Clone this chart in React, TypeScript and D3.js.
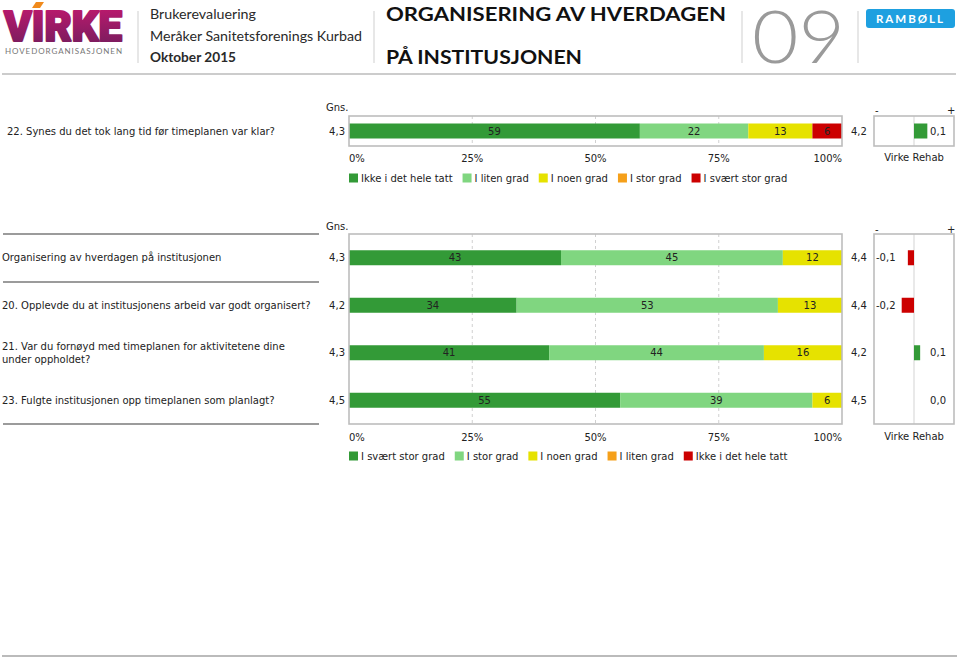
import React from "react";
import * as d3 from "d3";

const FONT = "'DejaVu Sans', Verdana, sans-serif";
const HFONT = "Lato, 'Open Sans', sans-serif";

// ---------- data ----------
const topCategories = ["Ikke i det hele tatt", "I liten grad", "I noen grad", "I stor grad", "I svært stor grad"];
const topQuestion = "22. Synes du det tok lang tid før timeplanen var klar?";
const topShares = [59, 22, 13, 0, 6];
const topMean = 4.3;
const topVirke = 4.2;
const topDiff = 0.1;

const lowerCategories = ["I svært stor grad", "I stor grad", "I noen grad", "I liten grad", "Ikke i det hele tatt"];
const lowerQuestions = [
  ["Organisering av hverdagen på institusjonen"],
  ["20. Opplevde du at institusjonens arbeid var godt organisert?"],
  ["21. Var du fornøyd med timeplanen for aktivitetene dine", "under oppholdet?"],
  ["23. Fulgte institusjonen opp timeplanen som planlagt?"],
];
const lowerSvaertStor = [43, 34, 41, 55];
const lowerStor = [45, 53, 44, 39];
const lowerNoen = [12, 13, 16, 6];
const lowerLiten = [0, 0, 0, 0];
const lowerIkke = [0, 0, 0, 0];
const lowerMeans = [4.3, 4.2, 4.3, 4.5];
const lowerVirke = [4.4, 4.4, 4.2, 4.5];
const lowerDiffs = [-0.1, -0.2, 0.1, 0.0];

const tickValues = [0, 0.25, 0.5, 0.75, 1];

// ---------- styles ----------
const PALETTE = ["#339a37", "#80d680", "#e6e200", "#f5a01a", "#cc0000"];
const FRAME = "#bdbdbd";

const fmt1 = (v: number) => d3.format(".1f")(v).replace(".", ",").replace("−", "-");

let _ctx: CanvasRenderingContext2D | null = null;
function measure(text: string, font = `10px ${FONT}`) {
  if (!_ctx) _ctx = document.createElement("canvas").getContext("2d");
  _ctx!.font = font;
  return _ctx!.measureText(text).width;
}

type Row = { id: string; label: string[]; values: number[]; mean: number; virke: number; diff: number };

function StackPanel(props: {
  rows: Row[];
  categories: string[];
  top: number;
  bottom: number;
  diffDomain: [number, number];
  gnsY: number;
  tickY: number;
  legendY: number;
  labelX: number;
}) {
  const { rows, categories, top, bottom, diffDomain, gnsY, tickY, legendY, labelX } = props;
  const x = d3.scaleLinear().domain([0, 1]).range([349, 842]);
  const y = d3.scaleBand().domain(rows.map((r) => r.id)).range([top, bottom]);
  const dx = d3.scaleLinear().domain(diffDomain).range([874, 954]);
  const barH = 15;
  const table = rows.map((r) => {
    const o: any = { id: r.id };
    categories.forEach((c, i) => (o[c] = r.values[i]));
    return o;
  });
  const series = d3.stack<any>().keys(categories).offset(d3.stackOffsetExpand)(table);
  const tickFmt = d3.format(".0%");

  // legend layout
  let lx = 349;
  const legend = categories.map((c, i) => {
    const item = { c, x: lx, color: PALETTE[i] };
    lx += 12 + measure(c) + 10;
    return item;
  });

  return (
    <g fontFamily={FONT} fontSize={10} fill="#222">
      <text x={326} y={gnsY}>Gns.</text>
      <text x={875} y={gnsY + 3}>-</text>
      <text x={947} y={gnsY + 3}>+</text>
      {/* gridlines */}
      {[0.25, 0.5, 0.75].map((t) => (
        <line key={t} x1={x(t)} x2={x(t)} y1={top} y2={bottom} stroke="#d0d0d0" strokeDasharray="3,3" />
      ))}
      <line x1={dx(0)} x2={dx(0)} y1={top} y2={bottom} stroke="#e2e2e2" strokeWidth={1.5} />
      {/* bars */}
      {series.map((s, si) =>
        s.map((d, di) => {
          const r = rows[di];
          const cy = (y(r.id) as number) + y.bandwidth() / 2;
          const w = x(d[1]) - x(d[0]);
          if (w <= 0) return null;
          return (
            <g key={`${si}-${di}`}>
              <rect x={x(d[0])} y={cy - barH / 2} width={w} height={barH} fill={PALETTE[si]} />
              <text x={(x(d[0]) + x(d[1])) / 2} y={cy + 3.5} textAnchor="middle" fill="#222">
                {r.values[si]}
              </text>
            </g>
          );
        })
      )}
      {rows.map((r) => {
        const cy = (y(r.id) as number) + y.bandwidth() / 2;
        const n = r.label.length;
        return (
          <g key={r.id}>
            {r.label.map((l, li) => (
              <text key={li} x={labelX} y={cy + 3.5 + (li - (n - 1) / 2) * 13}>
                {l}
              </text>
            ))}
            <text x={345} y={cy + 3.5} textAnchor="end">{fmt1(r.mean)}</text>
            <text x={851} y={cy + 3.5}>{fmt1(r.virke)}</text>
            {r.diff !== 0 && (
              <rect
                x={Math.min(dx(0), dx(r.diff))}
                y={cy - barH / 2}
                width={Math.abs(dx(r.diff) - dx(0))}
                height={barH}
                fill={r.diff < 0 ? PALETTE[4] : PALETTE[0]}
              />
            )}
            {r.diff < 0 ? (
              <text x={876} y={cy + 3.5}>{fmt1(r.diff)}</text>
            ) : (
              <text x={946} y={cy + 3.5} textAnchor="end">{fmt1(r.diff)}</text>
            )}
          </g>
        );
      })}
      {/* frames */}
      <rect x={349} y={top} width={493} height={bottom - top} fill="none" stroke={FRAME} strokeWidth={1.6} />
      <rect x={874} y={top} width={80} height={bottom - top} fill="none" stroke={FRAME} strokeWidth={1.6} />
      {/* ticks */}
      {tickValues.map((t, i) => (
        <text
          key={t}
          x={x(t)}
          y={tickY}
          textAnchor={i === 0 ? "start" : i === tickValues.length - 1 ? "end" : "middle"}
        >
          {tickFmt(t)}
        </text>
      ))}
      <text x={dx(0)} y={tickY - 1} textAnchor="middle">Virke Rehab</text>
      {/* legend */}
      {legend.map((l) => (
        <g key={l.c}>
          <rect x={l.x} y={legendY - 8} width={9} height={9} fill={l.color} />
          <text x={l.x + 12} y={legendY}>{l.c}</text>
        </g>
      ))}
    </g>
  );
}

function Header() {
  return (
    <g>
      <defs>
        <linearGradient id="virkeGrad" x1="0" y1="0" x2="0" y2="1">
          <stop offset="0" stopColor="#c4196f" />
          <stop offset="1" stopColor="#6f1d5c" />
        </linearGradient>
      </defs>
      <text x={4} y={41} fontFamily="Roboto, sans-serif" fontWeight={900} fontSize={42} fill="url(#virkeGrad)" stroke="url(#virkeGrad)" strokeWidth={2.2} strokeLinejoin="round" textLength={118} lengthAdjust="spacingAndGlyphs">
        VIRKE
      </text>
      <polygon points="36,2 44,2 40,8 32,8" fill="#f08a1c" />
      <text x={5} y={54} fontFamily={HFONT} fontSize={8} fill="#777" textLength={117} lengthAdjust="spacing">
        HOVEDORGANISASJONEN
      </text>
      {[138, 374, 742, 858].map((sx) => (
        <line key={sx} x1={sx} x2={sx} y1={11} y2={63} stroke="#cfcfcf" strokeWidth={1} />
      ))}
      <g fontFamily={HFONT} fill="#2a2a2a">
        <text x={150} y={19} fontSize={14} textLength={106} lengthAdjust="spacingAndGlyphs">Brukerevaluering</text>
        <text x={150} y={41} fontSize={14} textLength={212} lengthAdjust="spacingAndGlyphs">Meråker Sanitetsforenings Kurbad</text>
        <text x={150} y={62} fontSize={14} fontWeight={700} textLength={86} lengthAdjust="spacingAndGlyphs">Oktober 2015</text>
        <text x={386} y={21} fontSize={19} fontWeight={700} fill="#111" textLength={340} lengthAdjust="spacingAndGlyphs">ORGANISERING AV HVERDAGEN</text>
        <text x={386} y={64} fontSize={19} fontWeight={700} fill="#111" textLength={196} lengthAdjust="spacingAndGlyphs">PÅ INSTITUSJONEN</text>
      </g>
      <text x={752} y={63} fontFamily={HFONT} fontWeight={300} fontSize={72} fill="#9a9a9a" textLength={93} lengthAdjust="spacingAndGlyphs">09</text>
      <rect x={866} y={9} width={89} height={19} rx={3} fill="#1ea0e0" />
      <text x={910.5} y={22.5} textAnchor="middle" fontFamily={HFONT} fontWeight={700} fontSize={11.5} fill="#fff" letterSpacing={2}>
        RAMBØLL
      </text>
      <line x1={2} x2={956} y1={74} y2={74} stroke="#cccccc" strokeWidth={2} />
    </g>
  );
}

export default function App() {
  const topRows: Row[] = [
    { id: "q22", label: [topQuestion], values: topShares, mean: topMean, virke: topVirke, diff: topDiff },
  ];
  const lowerRows: Row[] = lowerQuestions.map((q, i) => ({
    id: `r${i}`,
    label: q,
    values: [lowerSvaertStor[i], lowerStor[i], lowerNoen[i], lowerLiten[i], lowerIkke[i]],
    mean: lowerMeans[i],
    virke: lowerVirke[i],
    diff: lowerDiffs[i],
  }));
  return (
    <svg width={960} height={659} style={{ position: "absolute", left: 0, top: 0, background: "#fff" }}>
      <rect width={960} height={659} fill="#fff" />
      <Header />
      <StackPanel
        rows={topRows}
        categories={topCategories}
        top={116}
        bottom={146}
        diffDomain={[-0.3, 0.3]}
        gnsY={110.5}
        tickY={162}
        legendY={181.5}
        labelX={7}
      />
      {[234, 282, 424].map((ly) => (
        <line key={ly} x1={3} x2={319} y1={ly} y2={ly} stroke="#7a7a7a" strokeWidth={1.5} />
      ))}
      <StackPanel
        rows={lowerRows}
        categories={lowerCategories}
        top={234}
        bottom={424}
        diffDomain={[-0.65, 0.65]}
        gnsY={229.5}
        tickY={441}
        legendY={459.5}
        labelX={2}
      />
      <line x1={2} x2={957} y1={656} y2={656} stroke="#bbbbbb" strokeWidth={2} />
    </svg>
  );
}
